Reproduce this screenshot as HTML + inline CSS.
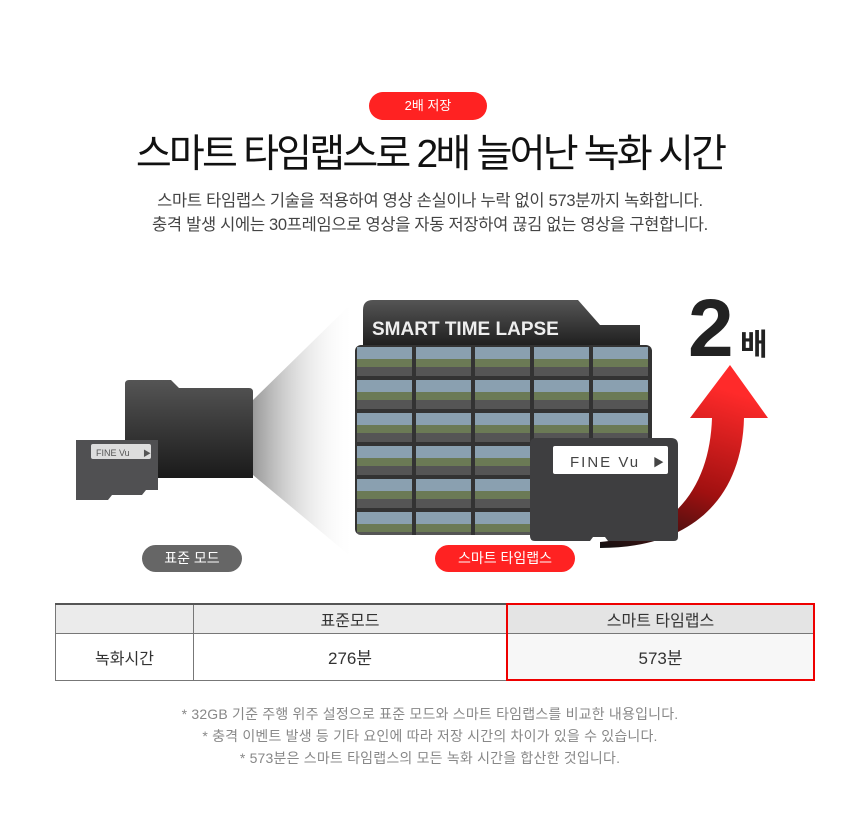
<!DOCTYPE html>
<html><head><meta charset="utf-8"><style>
body{margin:0;background:#fff;}
#c{position:relative;width:860px;height:818px;overflow:hidden;font-family:"Liberation Sans","Noto Sans CJK KR",sans-serif;}
.a{position:absolute;}
.pill{position:absolute;border-radius:14px;color:#fff;text-align:center;font-size:14px;line-height:28px;}
.t{position:absolute;left:0;width:860px;text-align:center;white-space:nowrap;}
table{position:absolute;left:55px;top:603px;width:760px;border-collapse:collapse;font-size:16px;color:#333;table-layout:fixed;}
td{border:1px solid #777;text-align:center;}
</style></head><body><div id="c">
<div class="pill" style="left:369px;top:92px;width:118px;height:28px;background:#ff2222;font-size:13px;">2배 저장</div>
<div class="t" style="top:130px;font-size:39px;letter-spacing:-2.8px;color:#111;line-height:50px;">스마트 타임랩스로 2배 늘어난 녹화 시간</div>
<div class="t" style="top:189px;font-size:16.5px;letter-spacing:-0.3px;color:#444;line-height:24px;">스마트 타임랩스 기술을 적용하여 영상 손실이나 누락 없이 573분까지 녹화합니다.<br>충격 발생 시에는 30프레임으로 영상을 자동 저장하여 끊김 없는 영상을 구현합니다.</div>

<svg class="a" style="left:0;top:280px" width="860" height="300">
<defs>
<linearGradient id="cone" x1="0" x2="1"><stop offset="0" stop-color="#999"/><stop offset="1" stop-color="#fff" stop-opacity="0"/></linearGradient>
<linearGradient id="arr" x1="0" y1="1" x2="0.3" y2="0"><stop offset="0" stop-color="#111"/><stop offset="0.45" stop-color="#a01010"/><stop offset="1" stop-color="#ff2a2a"/></linearGradient>
<linearGradient id="fold" x1="0" y1="0" x2="0" y2="1"><stop offset="0" stop-color="#555"/><stop offset="1" stop-color="#1a1a1a"/></linearGradient>
<pattern id="ph" width="59" height="33" patternUnits="userSpaceOnUse" x="355" y="65"><rect width="59" height="33" fill="#333"/><rect x="2" y="2" width="55" height="14" fill="#8aa0b0"/><rect x="2" y="14" width="55" height="8" fill="#6b7a55"/><rect x="2" y="22" width="55" height="9" fill="#555"/></pattern>
</defs>
<polygon points="253,120 355,20 355,280 253,195" fill="url(#cone)"/>
<path d="M125,110 l0,-6 q0,-4 4,-4 h42 l8,8 h70 q4,0 4,4 v86 h-128z" fill="url(#fold)"/>
<path d="M76,160 h82 v50 h-12 l-4,5 h-30 l-4,5 h-32z" fill="#505052"/>
<rect x="91" y="164" width="60" height="15" fill="#ddd" rx="2"/>
<text x="96" y="176" font-size="9" fill="#555" font-family="Liberation Sans">FINE Vu</text>
<text x="143" y="176" font-size="8" fill="#555">▶</text>
<path d="M363,70 v-40 q0,-10 10,-10 h205 l22,25 h40 v25z" fill="url(#fold)"/>
<text x="372" y="55" font-size="19" font-weight="bold" fill="#eee" font-family="Liberation Sans">SMART TIME LAPSE</text>
<rect x="355" y="65" width="297" height="190" rx="6" fill="url(#ph)"/>
<path d="M600,262 C680,255 710,200 712,138 L690,138 L730,85 L768,138 L744,138 C742,220 690,268 600,268z" fill="url(#arr)"/>
<path d="M541,158 h130 q7,0 7,7 v92 q0,4 -4,4 h-66 l-3,-4 h-12 l-3,4 h-55 q-5,0 -5,-5v-92q0,-6 6,-6z" fill="#3e3e40"/>
<rect x="553" y="166" width="115" height="28" rx="2" fill="#fff"/>
<text x="570" y="187" font-size="15" fill="#444" letter-spacing="2" font-family="Liberation Sans">FINE Vu</text>
<text x="653" y="186" font-size="11" fill="#444">▶</text>
<text x="688" y="76" font-size="82" font-weight="bold" fill="#222" font-family="Liberation Sans">2</text>
<text x="740" y="75" font-size="30" font-weight="bold" fill="#222" font-family="Noto Sans CJK KR">배</text>
</svg>
<div class="pill" style="left:142px;top:545px;width:100px;height:27px;background:#666;line-height:27px;">표준 모드</div>
<div class="pill" style="left:435px;top:545px;width:140px;height:27px;background:#ff2222;line-height:27px;">스마트 타임랩스</div>

<table>
<tr style="height:29px;background:#ebebeb;border-top:2px solid #555"><td style="width:135px"></td><td style="width:310px">표준모드</td><td style="border:2px solid #e00;border-bottom:1px solid #777;background:#e4e4e4">스마트 타임랩스</td></tr>
<tr style="height:47px"><td>녹화시간</td><td style="font-size:17px">276분</td><td style="border:2px solid #e00;border-top:1px solid #777;background:#f7f7f7;font-size:17px">573분</td></tr>
</table>
<div class="t" style="top:703px;font-size:14px;color:#888;line-height:22px;letter-spacing:0.2px">* 32GB 기준 주행 위주 설정으로 표준 모드와 스마트 타임랩스를 비교한 내용입니다.<br>* 충격 이벤트 발생 등 기타 요인에 따라 저장 시간의 차이가 있을 수 있습니다.<br>* 573분은 스마트 타임랩스의 모든 녹화 시간을 합산한 것입니다.</div>
</div></body></html>
